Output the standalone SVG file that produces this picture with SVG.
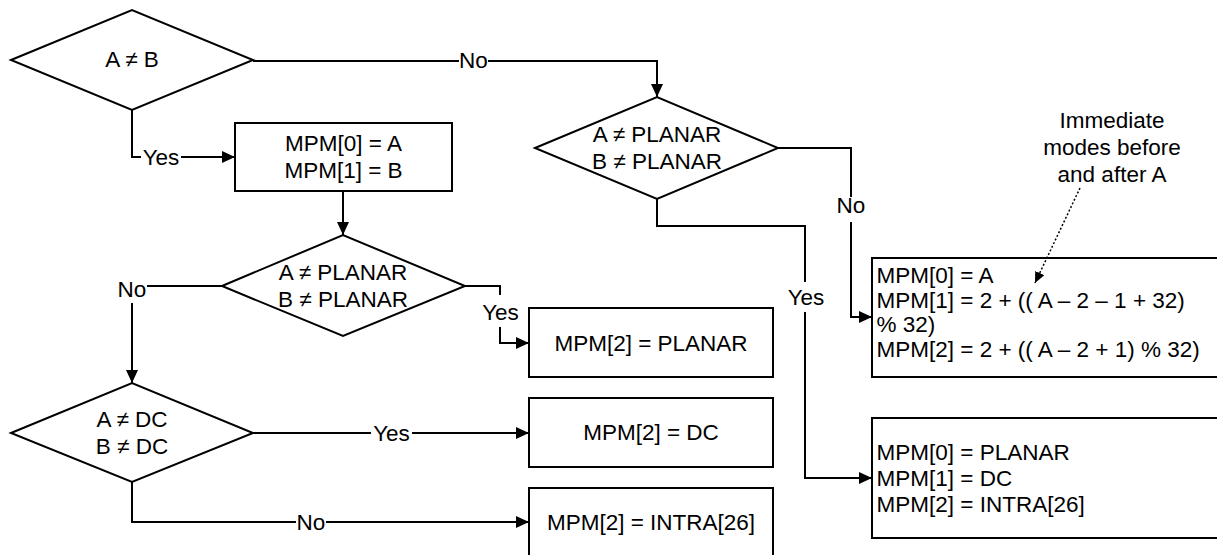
<svg xmlns="http://www.w3.org/2000/svg" width="1217" height="555" viewBox="0 0 1217 555">
<defs>
<style>
.shape{fill:#fff;stroke:#000;stroke-width:2}
.t{font-family:"Liberation Sans",Arial,sans-serif;font-size:22.5px;fill:#000}
.c{text-anchor:middle}
.ln{fill:none;stroke:#000;stroke-width:2}
.dot{fill:none;stroke:#000;stroke-width:1.5;stroke-dasharray:2,2}
</style>
<marker id="ah" markerUnits="userSpaceOnUse" markerWidth="14" markerHeight="12" refX="13" refY="6" orient="auto">
<path d="M0,0 L13,6 L0,12 z" fill="#000"/>
</marker>
<marker id="ahs" markerUnits="userSpaceOnUse" markerWidth="12" markerHeight="10" refX="11" refY="5" orient="auto">
<path d="M0,0 L11,5 L0,10 z" fill="#000"/>
</marker>
</defs>
<rect width="1217" height="555" fill="#fff"/>

<g id="d1"><polygon class="shape" points="11,60 132,10 253,60 132,110"/><text class="t c" x="132" y="67">A ≠ B</text></g>
<g id="d2"><polygon class="shape" points="535,148 657,97 778,148 657,199"/><text class="t c" x="657" y="142">A ≠ PLANAR</text><text class="t c" x="657" y="169">B ≠ PLANAR</text></g>
<g id="d3"><polygon class="shape" points="222,286 343,235 465,286 343,336"/><text class="t c" x="343" y="280">A ≠ PLANAR</text><text class="t c" x="343" y="307">B ≠ PLANAR</text></g>
<g id="d4"><polygon class="shape" points="11,433 132,383 253,433 132,482"/><text class="t c" x="132" y="427">A ≠ DC</text><text class="t c" x="132" y="454">B ≠ DC</text></g>

<g id="b1"><rect class="shape" x="235" y="123" width="217" height="68"/><text class="t c" x="343.5" y="151">MPM[0] = A</text><text class="t c" x="343.5" y="178">MPM[1] = B</text></g>
<g id="b2"><rect class="shape" x="529" y="308" width="244" height="69"/><text class="t c" x="651" y="351">MPM[2] = PLANAR</text></g>
<g id="b3"><rect class="shape" x="529" y="398" width="244" height="69"/><text class="t c" x="651" y="440">MPM[2] = DC</text></g>
<g id="b4"><rect class="shape" x="529" y="488" width="244" height="69"/><text class="t c" x="651" y="530">MPM[2] = INTRA[26]</text></g>
<g id="b5"><rect class="shape" x="872" y="258" width="400" height="119"/>
<text class="t" x="876.5" y="283">MPM[0] = A</text>
<text class="t" x="876.5" y="307.5">MPM[1] = 2 + (( A – 2 – 1 + 32)</text>
<text class="t" x="876.5" y="332">% 32)</text>
<text class="t" x="876.5" y="356.5">MPM[2] = 2 + (( A – 2 + 1) % 32)</text></g>
<g id="b6"><rect class="shape" x="872" y="418" width="400" height="120"/>
<text class="t" x="876.5" y="460">MPM[0] = PLANAR</text>
<text class="t" x="876.5" y="486">MPM[1] = DC</text>
<text class="t" x="876.5" y="512">MPM[2] = INTRA[26]</text></g>

<g id="note">
<text class="t c" x="1112" y="128">Immediate</text>
<text class="t c" x="1112" y="155">modes before</text>
<text class="t c" x="1112" y="182">and after A</text>
</g>

<g id="connectors">
<path class="ln" d="M253,61 H459"/><text class="t c" x="473.5" y="68">No</text><path class="ln" d="M488,61 H657 V97" marker-end="url(#ah)"/>
<path class="ln" d="M132,110 V157 H141"/><text class="t c" x="161" y="165">Yes</text><path class="ln" d="M181,157 H235" marker-end="url(#ah)"/>
<path class="ln" d="M343,191 V235" marker-end="url(#ah)"/>
<path class="ln" d="M222,286 H147"/><text class="t c" x="132" y="297">No</text><path class="ln" d="M132,303 V383" marker-end="url(#ah)"/>
<path class="ln" d="M465,286 H500 V295"/><text class="t c" x="500.5" y="320">Yes</text><path class="ln" d="M500,327 V343 H529" marker-end="url(#ah)"/>
<path class="ln" d="M253,433 H371"/><text class="t c" x="391.5" y="441">Yes</text><path class="ln" d="M412,433 H529" marker-end="url(#ah)"/>
<path class="ln" d="M132,482 V522 H296"/><text class="t c" x="311" y="530">No</text><path class="ln" d="M326,522 H529" marker-end="url(#ah)"/>
<path class="ln" d="M778,148 H851 V197"/><text class="t c" x="851" y="213">No</text><path class="ln" d="M851,222 V317 H872" marker-end="url(#ah)"/>
<path class="ln" d="M657,199 V226 H805 V282"/><text class="t c" x="806" y="305">Yes</text><path class="ln" d="M805,312 V478 H872" marker-end="url(#ah)"/>
<path class="dot" d="M1080,188 L1035,283" marker-end="url(#ahs)"/>
</g>
</svg>
